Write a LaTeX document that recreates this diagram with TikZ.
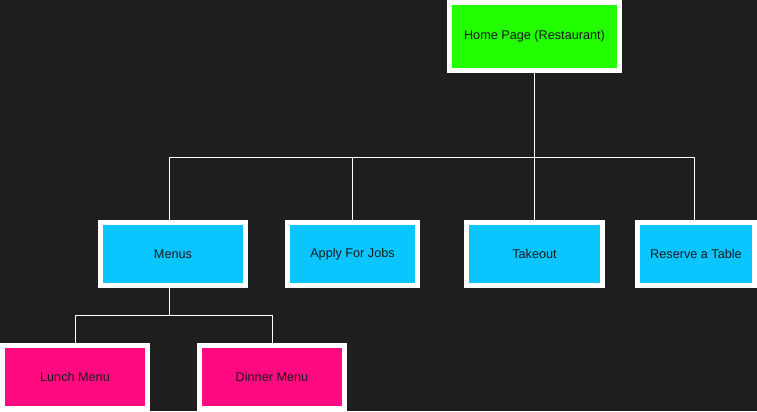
\documentclass[tikz,border=0pt]{standalone}
\usepackage{fontspec}
\setmainfont{Liberation Sans}
\usetikzlibrary{calc}
\definecolor{bgc}{HTML}{1E1E1E}
\definecolor{homec}{HTML}{22FF00}
\definecolor{pagec}{HTML}{0BC5FF}
\definecolor{subc}{HTML}{FF0A80}
\definecolor{txtc}{HTML}{1A1A1A}
\tikzset{
  box/.style={draw=white, line width=3.75pt, inner sep=0pt, minimum height=47.25pt,
    text=txtc, font=\fontsize{9.5pt}{11pt}\selectfont},
  homebox/.style={box, fill=homec, minimum width=127.5pt, minimum height=51pt},
  pagebox/.style={box, fill=pagec},
  subbox/.style={box, fill=subc, minimum width=108.75pt},
  link/.style={draw=white, line width=0.75pt}
}
\begin{document}
\begin{tikzpicture}[x=0.75pt,y=-0.75pt]
\fill[bgc] (0,0) rectangle (757,411);
\useasboundingbox (0,0) rectangle (757,411);
\node[homebox] (home) at (534.5,36.5) {Home Page (Restaurant)};
\node[pagebox, minimum width=108.75pt] (menus) at (173,254) {Menus};
\node[pagebox, minimum width=97.5pt] (apply) at (352.5,254) {Apply For Jobs};
\node[pagebox, minimum width=102pt] (takeout) at (534.5,254) {Takeout};
\node[pagebox, minimum width=87.75pt] (reserve) at (696,254) {Reserve a Table};
\node[subbox] (lunch) at (75,377) {Lunch Menu};
\node[subbox] (dinner) at (272,377) {Dinner Menu};
\coordinate (bus) at (534.5,157);
\coordinate (menusTop) at ($(menus.north)+(-4,0)$);
\coordinate (reserveTop) at ($(reserve.north)+(-2,0)$);
\draw[link] (home.south) -- (home.south |- bus);
\draw[link] (menusTop |- bus) -- (reserveTop |- bus);
\draw[link] (menusTop |- bus) -- (menusTop);
\draw[link] (apply.north |- bus) -- (apply.north);
\draw[link] (takeout.north |- bus) -- (takeout.north);
\draw[link] (reserveTop |- bus) -- (reserveTop);
\coordinate (menusBot) at ($(menus.south)+(-4,0)$);
\coordinate (subbus) at (169,315);
\draw[link] (menusBot) -- (menusBot |- subbus);
\draw[link] (lunch.north |- subbus) -- (dinner.north |- subbus);
\draw[link] (lunch.north |- subbus) -- (lunch.north);
\draw[link] (dinner.north |- subbus) -- (dinner.north);
\end{tikzpicture}
\end{document}
